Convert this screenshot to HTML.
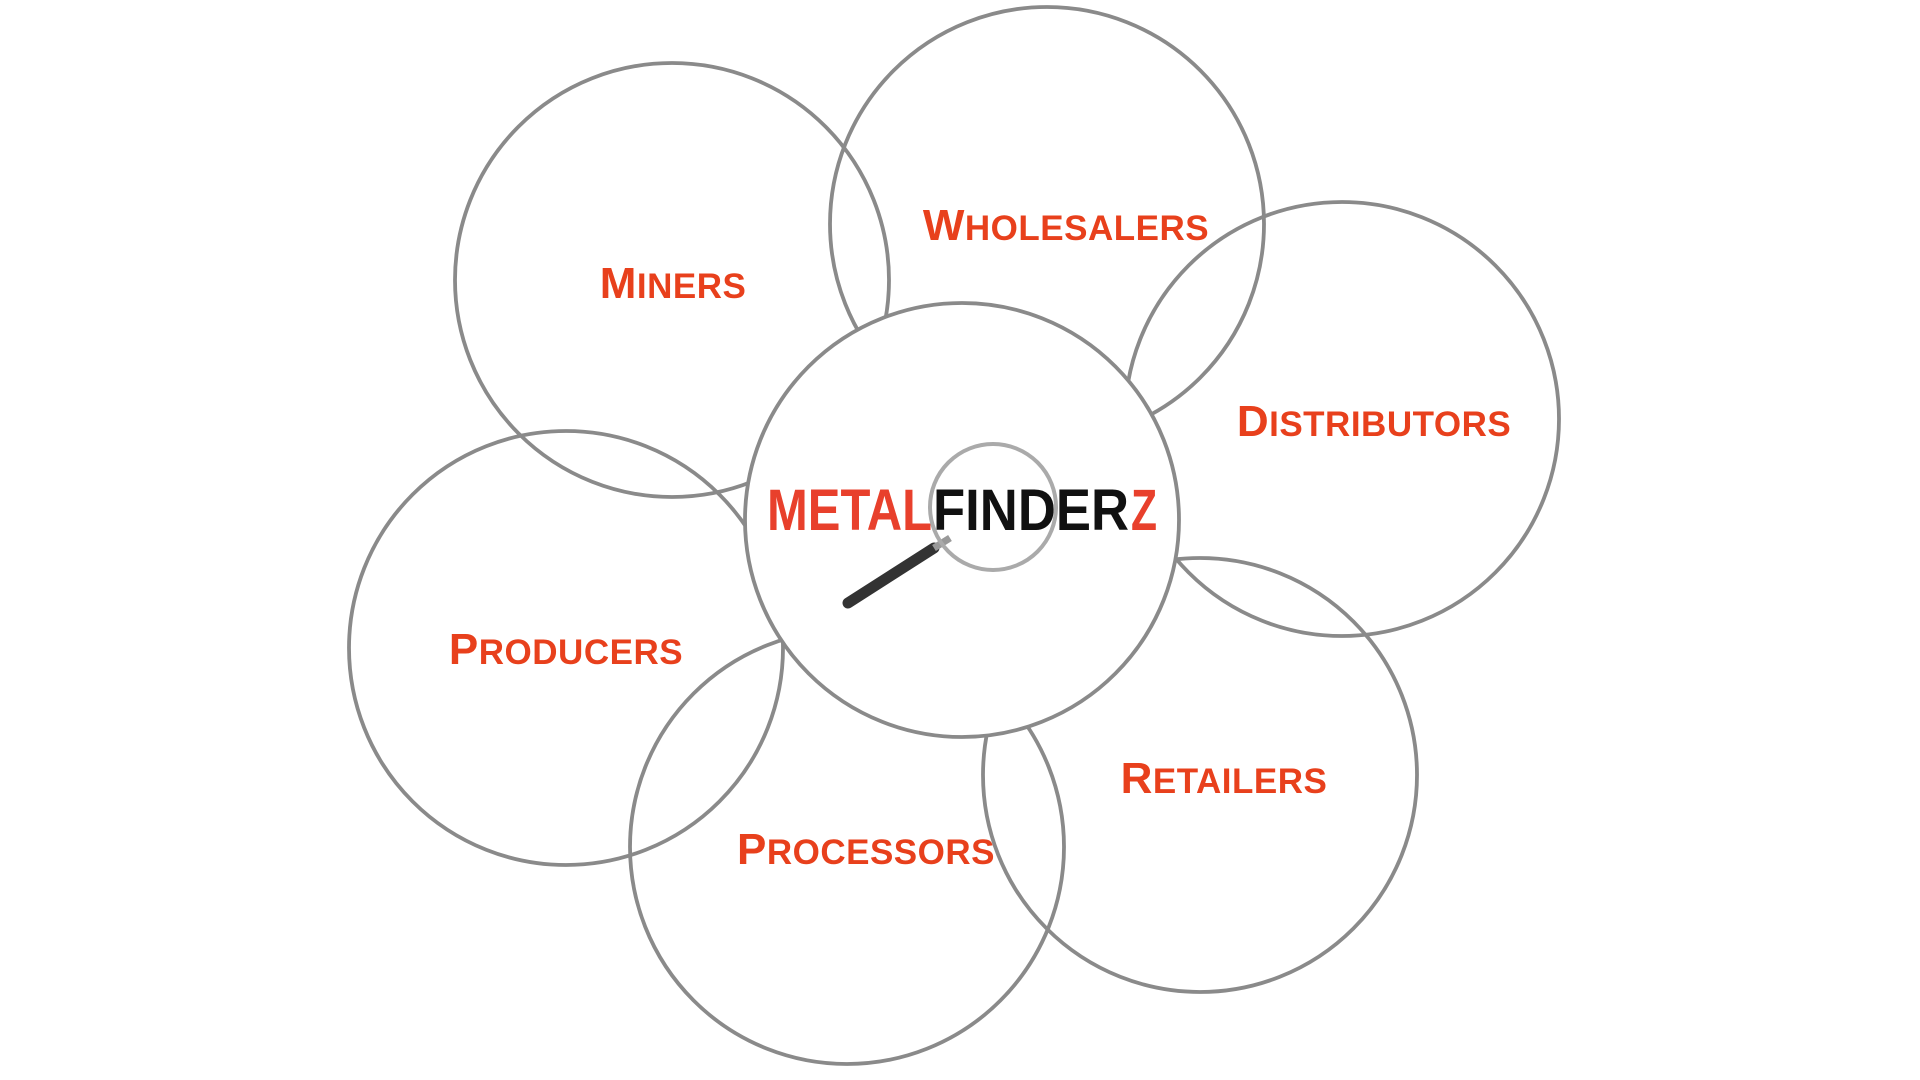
<!DOCTYPE html>
<html><head><meta charset="utf-8"><style>html,body{margin:0;padding:0;background:#fff;}svg{display:block}</style></head>
<body>
<svg width="1920" height="1080" viewBox="0 0 1920 1080" xmlns="http://www.w3.org/2000/svg">
<g fill="none" stroke="#8a8a8a" stroke-width="3.8">
<circle cx="672" cy="280" r="217"/>
<circle cx="1047" cy="224" r="217"/>
<circle cx="1342" cy="419" r="217"/>
<circle cx="566" cy="648" r="217"/>
<circle cx="847" cy="847" r="217"/>
<circle cx="1200" cy="775" r="217"/>
</g>
<circle cx="962" cy="520" r="217" fill="#fff" stroke="#8a8a8a" stroke-width="3.8"/>
<g font-family="Liberation Sans, sans-serif" font-weight="bold" font-size="35" fill="#e8401c" text-anchor="middle">
<text x="673" y="298" letter-spacing="0.5"><tspan font-size="44">M</tspan>INERS</text>
<text x="1066" y="240" letter-spacing="0.5"><tspan font-size="44">W</tspan>HOLESALERS</text>
<text x="1374" y="436" letter-spacing="0.5"><tspan font-size="44">D</tspan>ISTRIBUTORS</text>
<text x="566" y="664" letter-spacing="0.5"><tspan font-size="44">P</tspan>RODUCERS</text>
<text x="866" y="864" letter-spacing="0.5"><tspan font-size="44">P</tspan>ROCESSORS</text>
<text x="1224" y="793" letter-spacing="0.5"><tspan font-size="44">R</tspan>ETAILERS</text>
</g>
<line x1="934" y1="548" x2="848" y2="603" stroke="#333" stroke-width="11" stroke-linecap="round"/>
<line x1="934" y1="548" x2="950" y2="538" stroke="#999" stroke-width="7"/>
<g font-family="Liberation Sans, sans-serif" font-weight="bold" font-size="58">
<text x="767" y="530" fill="#e8402c" textLength="165" lengthAdjust="spacingAndGlyphs">METAL</text>
<text x="933" y="530" fill="#111" textLength="196" lengthAdjust="spacingAndGlyphs">FINDER</text>
<text x="1131" y="530" fill="#e8402c" textLength="26" lengthAdjust="spacingAndGlyphs">Z</text>
</g>
<circle cx="993" cy="507" r="63" fill="none" stroke="#aaa" stroke-width="4"/>
</svg>
</body></html>
